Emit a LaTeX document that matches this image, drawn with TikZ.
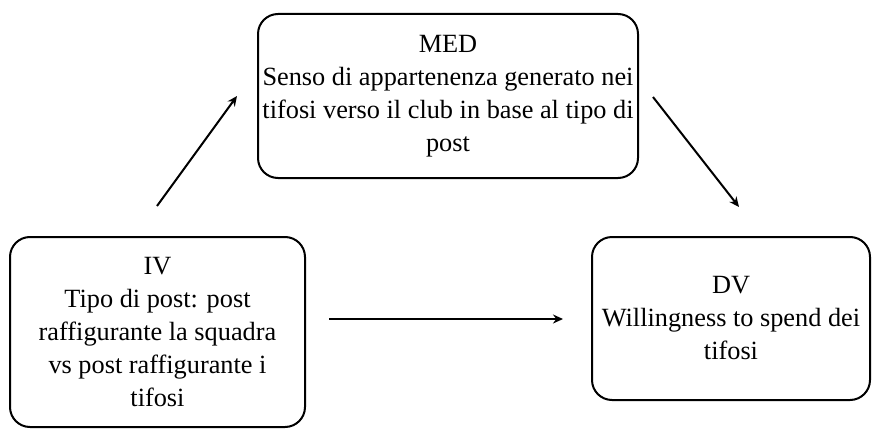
\documentclass[tikz,border=0pt]{standalone}
\usepackage{fontspec}
\setmainfont{Liberation Serif}
\usetikzlibrary{arrows.meta}
\tikzset{
  box/.style={draw=black, line width=2pt, rounded corners=20pt, align=center,
    font=\fontsize{26.3pt}{33pt}\selectfont, inner sep=0pt},
  conn/.style={line width=2pt, -{Stealth[length=10pt,width=9pt]}}
}
\begin{document}
\begin{tikzpicture}[x=1pt,y=-1pt]
\useasboundingbox (0,0) rectangle (872,428);
\node[box, minimum width=380pt, minimum height=164pt] (med) at (448,96)
  {MED\\Senso di appartenenza generato nei\\tifosi verso il club in base al tipo di\\post};
\node[box, minimum width=295pt, minimum height=190pt] (iv) at (157.5,332)
  {IV\\Tipo di post: post\\raffigurante la squadra\\vs post raffigurante i\\tifosi};
\node[box, minimum width=278pt, minimum height=163pt] (dv) at (731,318.5)
  {DV\\Willingness to spend dei\\tifosi};
\coordinate (a1s) at (157,206);
\coordinate (a1e) at (237,96);
\coordinate (a2s) at (653,97);
\coordinate (a2e) at (739,207);
\coordinate (a3s) at (329,319);
\coordinate (a3e) at (563,319);
\draw[conn] (a1s) -- (a1e);
\draw[conn] (a2s) -- (a2e);
\draw[conn] (a3s) -- (a3e);
\end{tikzpicture}
\end{document}
